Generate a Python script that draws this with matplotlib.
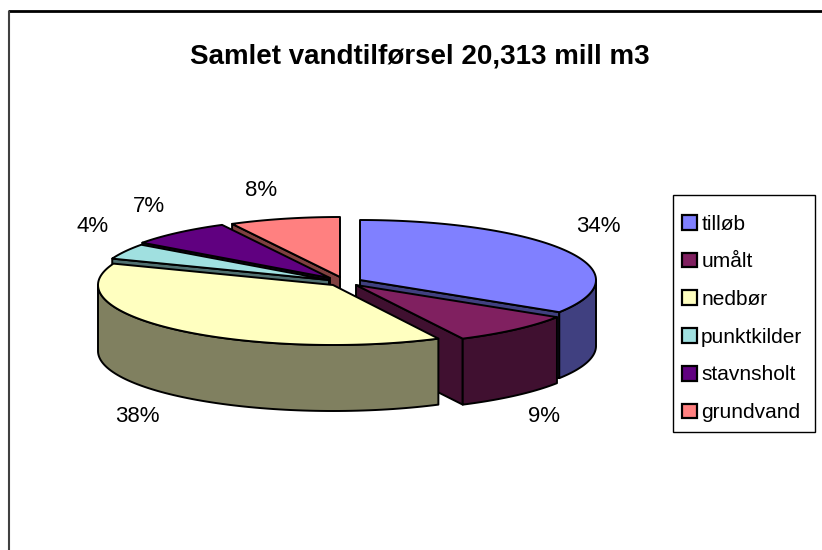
"""Exploded 3D style pie chart of the water inflow."""

import numpy as np
import matplotlib

matplotlib.use("Agg")
import matplotlib.pyplot as plt
from matplotlib.patches import Patch, Polygon, Rectangle

plt.rcParams["font.family"] = ["Liberation Sans", "DejaVu Sans"]

title = "Samlet vandtilførsel 20,313 mill m3"
names = ["tilløb", "umålt", "nedbør", "punktkilder", "stavnsholt", "grundvand"]
shares = [34.0, 8.6, 38.2, 4.2, 7.3, 7.7]
share_labels = ["34%", "9%", "38%", "4%", "7%", "8%"]
top_colors = ["#8080FF", "#802060", "#FFFFC0", "#A0E0E0", "#600080", "#FF8080"]
side_colors = ["#404080", "#401030", "#808060", "#507070", "#300040", "#804040"]

# layout in picture pixels
apex_x = [360, 356, 333, 329, 330, 340]
apex_y = [280, 285, 285, 280, 278, 277]
radius_x = [236, 238, 235, 232, 232, 232]
label_x = [598, 544, 137, 93, 149, 261]
label_y = [227, 417, 417, 227, 207, 191]
radius_y = 60
depth = 66
draw_order = [5, 4, 3, 0, 1, 2]

fig = plt.figure(figsize=(8.22, 5.5), dpi=100)
ax = fig.add_axes([0, 0, 1, 1])
ax.set_xlim(0, 822)
ax.set_ylim(550, 0)
ax.axis("off")

edges = np.concatenate([[0], np.cumsum(shares)]) / np.sum(shares) * 360


def rim(i, angles):
    t = np.radians(angles)
    return np.column_stack(
        [apex_x[i] + radius_x[i] * np.sin(t), apex_y[i] - radius_y * np.cos(t)]
    )


def face(points, color):
    ax.add_patch(Polygon(points, closed=True, fc=color, ec="black", lw=1.4, joinstyle="round"))


for i in draw_order:
    start, end = edges[i], edges[i + 1]
    apex = np.array([[apex_x[i], apex_y[i]]], dtype=float)
    down = np.array([0, depth])

    # cut faces that look towards the viewer
    for angle, visible in ((start, np.sin(np.radians(start)) < 0), (end, np.sin(np.radians(end)) > 0)):
        if visible:
            outer = rim(i, [angle])
            face(np.vstack([apex, outer, outer + down, apex + down]), side_colors[i])

    # front part of the outer wall
    low, high = max(start, 90), min(end, 270)
    if low < high:
        wall = rim(i, np.linspace(low, high, 80))
        face(np.vstack([wall, wall[::-1] + down]), side_colors[i])

    top = rim(i, np.linspace(start, end, 120))
    face(np.vstack([apex, top]), top_colors[i])

for x, y, text in zip(label_x, label_y, share_labels):
    ax.text(x, y, text, fontsize=16, ha="center", va="center", color="black")

ax.text(420, 57, title, fontsize=20, fontweight="bold", ha="center", va="center")

# chart area border, only top and left fall inside the picture
ax.plot([8, 822], [11, 11], color="black", lw=2, solid_capstyle="butt")
ax.plot([9, 9], [11, 550], color="#404040", lw=1.5, solid_capstyle="butt")

ax.add_patch(Rectangle((673, 195), 142, 237, fc="white", ec="black", lw=1, zorder=3))
handles = [Patch(fc=c, ec="black", lw=1.6) for c in top_colors]
legend = ax.legend(
    handles,
    names,
    loc="upper left",
    bbox_to_anchor=(682 / 822, 1 - 214.5 / 550),
    fontsize=15,
    frameon=False,
    borderpad=0,
    labelspacing=0.9,
    handlelength=0.72,
    handleheight=0.72,
    handletextpad=0.2,
    borderaxespad=0,
)
legend.set_zorder(4)

fig.savefig("out.png", dpi=100)
